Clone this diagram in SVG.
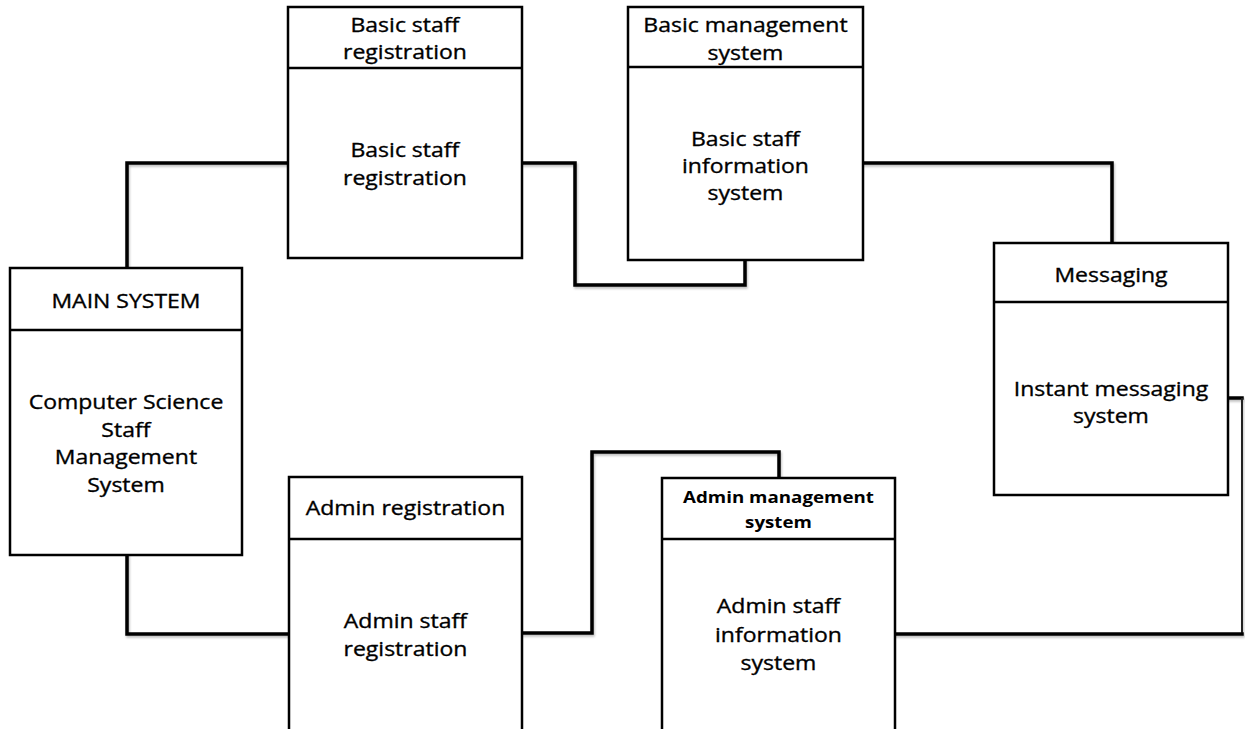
<svg xmlns="http://www.w3.org/2000/svg" width="1245" height="729" viewBox="0 0 1245 729">
  <style>
    .box { fill: #ffffff; stroke: #000000; stroke-width: 2.5; }
    .div { stroke: #000000; stroke-width: 2.5; }
    .wire { fill: none; stroke: #000000; stroke-width: 3.5; stroke-linejoin: miter; stroke-linecap: square; }
    .thin { fill: none; stroke: #222222; stroke-width: 2; }
    text { font-family: "Open Sans", "Liberation Sans", sans-serif; font-size: 20px; fill: #000000; text-anchor: middle;
           stroke: #000000; stroke-width: 0.35;
           transform-box: fill-box; transform-origin: center; transform: scaleX(1.15); }
    .small { font-size: 16px; font-weight: 700; stroke-width: 0; transform: scaleX(1.17); }
  </style>
  <defs>
    <filter id="shade" x="-5%" y="-5%" width="110%" height="110%">
      <feDropShadow dx="1" dy="2" stdDeviation="1" flood-color="#000000" flood-opacity="0.25"/>
    </filter>
  </defs>
  <rect width="1245" height="729" fill="#ffffff"/>

  <!-- connectors between the subsystems -->
  <g id="connectors" filter="url(#shade)">
    <path class="wire" d="M127,268 V163 H288"/>
    <path class="wire" d="M522,163 H575 V285 H745 V260"/>
    <path class="wire" d="M863,163 H1112 V243"/>
    <path class="wire" d="M1228,398 H1242"/>
    <path class="thin" d="M1242,398 V634"/>
    <path class="wire" d="M1242,634 H895"/>
    <path class="wire" d="M127,555 V634 H289"/>
    <path class="wire" d="M522,633 H592 V452 H779 V478"/>
  </g>

  <g id="main-system">
    <rect class="box" x="10" y="268" width="232" height="287"/>
    <line class="div" x1="10" y1="330" x2="242" y2="330"/>
    <text x="126" y="308">MAIN SYSTEM</text>
    <text x="126" y="409">Computer Science</text>
    <text x="126" y="437">Staff</text>
    <text x="126" y="464">Management</text>
    <text x="126" y="492">System</text>
  </g>

  <g id="basic-staff-registration">
    <rect class="box" x="288" y="7" width="234" height="251"/>
    <line class="div" x1="288" y1="68" x2="522" y2="68"/>
    <text x="405" y="32">Basic staff</text>
    <text x="405" y="59">registration</text>
    <text x="405" y="157">Basic staff</text>
    <text x="405" y="185">registration</text>
  </g>

  <g id="basic-management-system">
    <rect class="box" x="628" y="7" width="235" height="253"/>
    <line class="div" x1="628" y1="67" x2="863" y2="67"/>
    <text x="745.5" y="32">Basic management</text>
    <text x="745.5" y="60">system</text>
    <text x="745.5" y="146">Basic staff</text>
    <text x="745.5" y="173">information</text>
    <text x="745.5" y="200">system</text>
  </g>

  <g id="messaging">
    <rect class="box" x="994" y="243" width="234" height="252"/>
    <line class="div" x1="994" y1="302" x2="1228" y2="302"/>
    <text x="1111" y="282">Messaging</text>
    <text x="1111" y="396">Instant messaging</text>
    <text x="1111" y="423">system</text>
  </g>

  <g id="admin-registration">
    <rect class="box" x="289" y="477" width="233" height="270"/>
    <line class="div" x1="289" y1="539" x2="522" y2="539"/>
    <text x="405.5" y="515">Admin registration</text>
    <text x="405.5" y="628">Admin staff</text>
    <text x="405.5" y="656">registration</text>
  </g>

  <g id="admin-management-system">
    <rect class="box" x="662" y="478" width="233" height="270"/>
    <line class="div" x1="662" y1="539" x2="895" y2="539"/>
    <text class="small" x="778.5" y="503">Admin management</text>
    <text class="small" x="778.5" y="528">system</text>
    <text x="778.5" y="613">Admin staff</text>
    <text x="778.5" y="642">information</text>
    <text x="778.5" y="670">system</text>
  </g>
</svg>
